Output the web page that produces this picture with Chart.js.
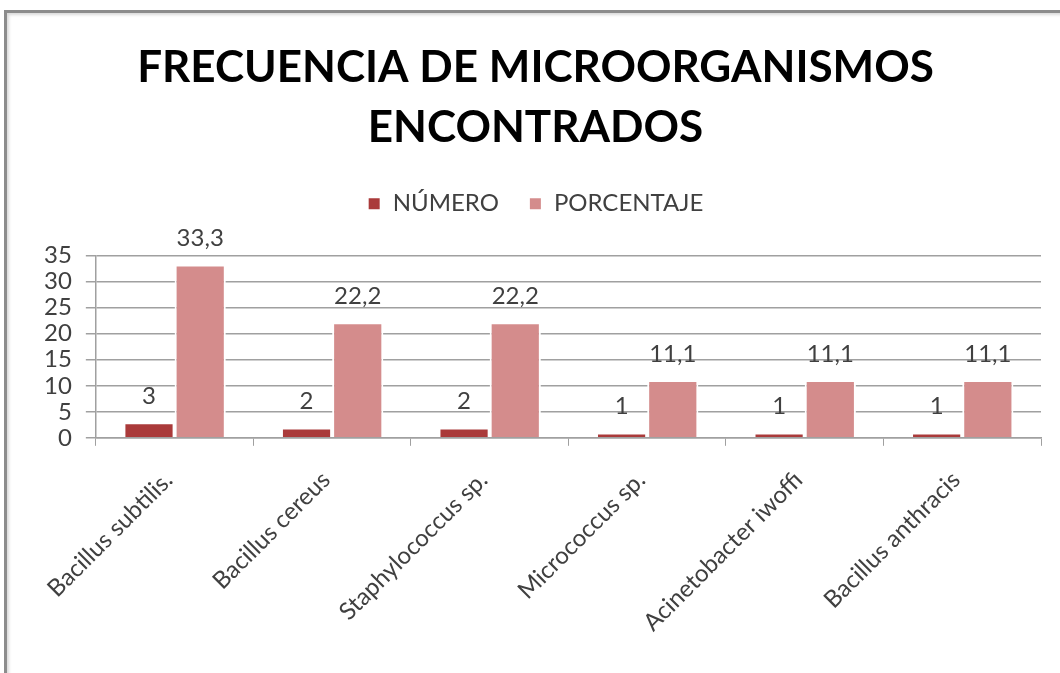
<!DOCTYPE html>
<html>
<head>
<meta charset="utf-8">
<script src="https://cdn.jsdelivr.net/npm/chart.js@4/dist/chart.umd.min.js"></script>
<style>
  html, body { margin: 0; padding: 0; background: #fff; }
  body { width: 1060px; height: 673px; position: relative; overflow: hidden; }
  #frame {
    position: absolute; left: 4px; top: 10px; width: 1100px; height: 700px;
    border: 3px solid #8c8c8c;
    box-shadow: inset 2px 2px 3px rgba(0,0,0,0.15);
  }
  #wrap { position: absolute; left: 0; top: 0; width: 1060px; height: 673px; }
</style>
</head>
<body>
<div id="frame"></div>
<div id="wrap"><canvas id="chart"></canvas></div>
<script>
// Datos del gráfico
const categorias = ['Bacillus subtilis.', 'Bacillus cereus', 'Staphylococcus sp.', 'Micrococcus sp.', 'Acinetobacter iwoffi', 'Bacillus anthracis'];
const numero = [3, 2, 2, 1, 1, 1];
const porcentaje = [33.3, 22.2, 22.2, 11.1, 11.1, 11.1];
const ticksY = [0, 5, 10, 15, 20, 25, 30, 35];

const gris = '#404040';

// Etiquetas de valores encima de cada barra
const etiquetasPlugin = {
  id: 'etiquetas',
  afterDatasetsDraw(chart) {
    const ctx = chart.ctx;
    ctx.save();
    ctx.font = '24px Lato';
    ctx.fillStyle = gris;
    ctx.textAlign = 'center';
    ctx.textBaseline = 'middle';
    chart.data.datasets.forEach((ds, i) => {
      chart.getDatasetMeta(i).data.forEach((bar, j) => {
        const txt = String(ds.data[j]).replace('.', ',');
        ctx.fillText(txt, bar.x, bar.y - 26);
      });
    });
    ctx.restore();
  }
};

// Más espacio debajo de la leyenda
const espacioLeyenda = {
  id: 'espacioLeyenda',
  beforeInit(chart) {
    const fitOrig = chart.legend.fit;
    chart.legend.fit = function () {
      fitOrig.bind(chart.legend)();
      this.height += 30;
    };
  }
};

new Chart(document.getElementById('chart'), {
  type: 'bar',
  data: {
    labels: categorias,
    datasets: [{
      label: 'NÚMERO',
      data: numero,
      backgroundColor: '#aa3a3a',
      borderColor: '#ffffff',
      borderWidth: 2,
      categoryPercentage: 0.65,
      barPercentage: 1
    }, {
      label: 'PORCENTAJE',
      data: porcentaje,
      backgroundColor: '#d48c8c',
      borderColor: '#ffffff',
      borderWidth: 2,
      categoryPercentage: 0.65,
      barPercentage: 1
    }]
  },
  options: {
    responsive: true,
    maintainAspectRatio: false,
    animation: false,
    layout: { padding: { top: 38, right: 19, bottom: 16, left: 30 } },
    plugins: {
      title: {
        display: true,
        text: ['FRECUENCIA DE MICROORGANISMOS', 'ENCONTRADOS'],
        color: '#000',
        font: { family: 'Lato', size: 44, weight: 'bold', lineHeight: 1.36 },
        padding: { top: 0, bottom: 4 }
      },
      legend: {
        position: 'top',
        labels: {
          color: gris,
          font: { family: 'Lato', size: 24 },
          boxWidth: 13,
          boxHeight: 13,
          padding: 30
        }
      },
      tooltip: { enabled: false }
    },
    scales: {
      x: {
        grid: {
          drawOnChartArea: false,
          color: '#a0a0a0',
          tickLength: 8
        },
        border: { color: '#a0a0a0', width: 1.5 },
        ticks: {
          color: gris,
          font: { family: 'Lato', size: 24 },
          minRotation: 45,
          maxRotation: 45,
          padding: 20,
          labelOffset: -6,
          autoSkip: false
        }
      },
      y: {
        min: 0,
        max: 35,
        afterBuildTicks(scale) {
          scale.ticks = ticksY.map(v => ({ value: v }));
        },
        grid: { color: '#a0a0a0', lineWidth: 1.5, tickLength: 10 },
        border: { color: '#a0a0a0', width: 1.5 },
        ticks: {
          color: gris,
          font: { family: 'Lato', size: 24 },
          padding: 14,
          autoSkip: false
        }
      }
    }
  },
  plugins: [etiquetasPlugin, espacioLeyenda]
});
</script>
</body>
</html>
